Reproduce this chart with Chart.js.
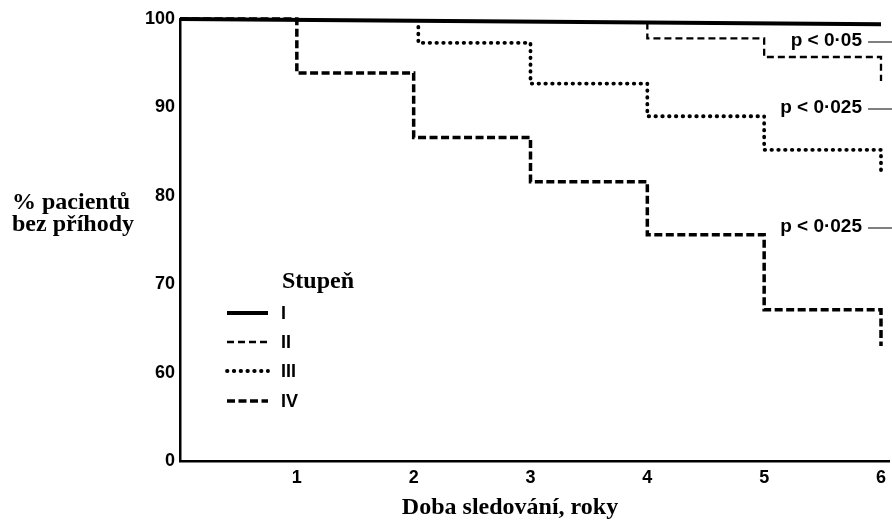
<!DOCTYPE html>
<html>
<head>
<meta charset="utf-8">
<title>Doba sledování</title>
<script src="https://cdn.jsdelivr.net/npm/chart.js@4.4.1/dist/chart.umd.min.js"></script>
<style>
  html, body { margin: 0; padding: 0; background: #fff; }
  #wrap { width: 892px; height: 524px; }
</style>
</head>
<body>
<div id="wrap"><canvas id="myChart" width="892" height="524"></canvas></div>
<script>
// event-free curves per stage
const stages = ["I", "II", "III", "IV"];
const timesI = [0, 6];
const valuesI = [100, 99.4];
const timesII = [4, 4, 5, 6];
const valuesII = [99.6, 97.8, 95.7, 93.0];
const timesIII = [2.04, 2.04, 3, 4, 5, 6];
const valuesIII = [99.1, 97.3, 92.7, 89.0, 85.2, 82.7];
const timesIV = [0, 1, 2, 3, 4, 5, 6];
const valuesIV = [100, 93.9, 86.6, 81.6, 75.6, 67.1, 63.0];
const xTicks = [1, 2, 3, 4, 5, 6];
const yTicks = [50, 60, 70, 80, 90, 100]; // 50 is printed as "0" (broken axis)
const pLabels = ["p < 0·05", "p < 0·025", "p < 0·025"];

const SANS = '"Liberation Sans", Arial, sans-serif';
const SERIF = '"Liberation Serif", "Times New Roman", serif';

const toPoints = (xs, ys) => xs.map((x, i) => ({ x: x, y: ys[i] }));

// line look for each stage (also used by the hand drawn legend)
const stageStyles = [
  { width: 4, dash: [], cap: "butt" },
  { width: 2.3, dash: [7, 4], cap: "butt" },
  { width: 3.8, dash: [0.5, 6.3], cap: "round" },
  { width: 3.5, dash: [8, 3.5], cap: "butt" },
];

const seriesData = [
  toPoints(timesI, valuesI),
  toPoints(timesII, valuesII),
  toPoints(timesIII, valuesIII),
  toPoints(timesIV, valuesIV),
];

// texts that chart.js cannot place itself: axis titles, legend, p-values
const annotations = {
  id: "annotations",
  afterDraw(chart) {
    const ctx = chart.ctx;
    ctx.save();
    ctx.fillStyle = "#000";
    ctx.strokeStyle = "#000";

    // y title, horizontal on two lines
    ctx.font = "bold 24px " + SERIF;
    ctx.textAlign = "left";
    ctx.textBaseline = "alphabetic";
    ctx.fillText("% pacientů", 12, 209);
    ctx.fillText("bez příhody", 12, 231);

    // x title
    ctx.textAlign = "center";
    ctx.fillText("Doba sledování, roky", 510, 514);

    // legend
    ctx.textAlign = "left";
    ctx.fillText("Stupeň", 282, 288);
    const rowY = [313, 342, 371, 401];
    ctx.font = "bold 18px " + SANS;
    ctx.textBaseline = "middle";
    stages.forEach((s, i) => {
      const st = stageStyles[i];
      ctx.lineWidth = st.width;
      ctx.setLineDash(st.dash);
      ctx.lineCap = st.cap;
      ctx.beginPath();
      ctx.moveTo(227, rowY[i]);
      ctx.lineTo(268, rowY[i]);
      ctx.stroke();
      ctx.fillText(s, 281, rowY[i] + 1);
    });
    ctx.setLineDash([]);
    ctx.lineCap = "butt";

    // p-value notes with leader lines running off the right edge
    const pY = [41, 108, 227];
    ctx.font = "bold 19px " + SANS;
    ctx.textAlign = "right";
    ctx.lineWidth = 1;
    pLabels.forEach((t, i) => {
      ctx.fillText(t, 862, pY[i]);
      ctx.beginPath();
      ctx.moveTo(868, pY[i] + 1);
      ctx.lineTo(892, pY[i] + 1);
      ctx.stroke();
    });
    ctx.restore();
  },
};

document.addEventListener("DOMContentLoaded", () => {
  const ctx = document.getElementById("myChart").getContext("2d");

  new Chart(ctx, {
    type: "line",
    data: {
      datasets: seriesData.map((pts, i) => ({
        label: stages[i],
        data: pts,
        borderColor: "#000",
        borderWidth: stageStyles[i].width,
        borderDash: stageStyles[i].dash,
        borderCapStyle: stageStyles[i].cap,
        borderJoinStyle: "miter",
        stepped: i === 0 ? false : "before",
        pointRadius: 0,
        fill: false,
        clip: false,
      })),
    },
    options: {
      responsive: false,
      animation: false,
      devicePixelRatio: 1,
      layout: { padding: { top: 19, right: 0, bottom: 0, left: 0 } },
      plugins: {
        legend: { display: false },
        tooltip: { enabled: false },
      },
      scales: {
        x: {
          type: "linear",
          min: 0,
          max: 6.075,
          grid: { display: false, tickLength: 0 },
          border: { display: true, color: "#000", width: 2.5 },
          ticks: {
            color: "#000",
            font: { family: SANS, size: 18, weight: "bold" },
            padding: 6,
            maxRotation: 0,
            autoSkip: false,
          },
          afterBuildTicks: (axis) => {
            axis.ticks = xTicks.map((v) => ({ value: v }));
          },
          afterFit: (axis) => {
            axis.height = 63;
          },
        },
        y: {
          type: "linear",
          min: 50,
          max: 100,
          grid: { display: false, tickLength: 0 },
          border: { display: true, color: "#000", width: 2.5 },
          ticks: {
            color: "#000",
            font: { family: SANS, size: 18, weight: "bold" },
            padding: 5,
            callback: (v) => (v === 50 ? "0" : v),
          },
          afterBuildTicks: (axis) => {
            axis.ticks = yTicks.map((v) => ({ value: v }));
          },
          afterFit: (axis) => {
            axis.width = 180;
          },
        },
      },
    },
    plugins: [annotations],
  });
});
</script>
</body>
</html>
